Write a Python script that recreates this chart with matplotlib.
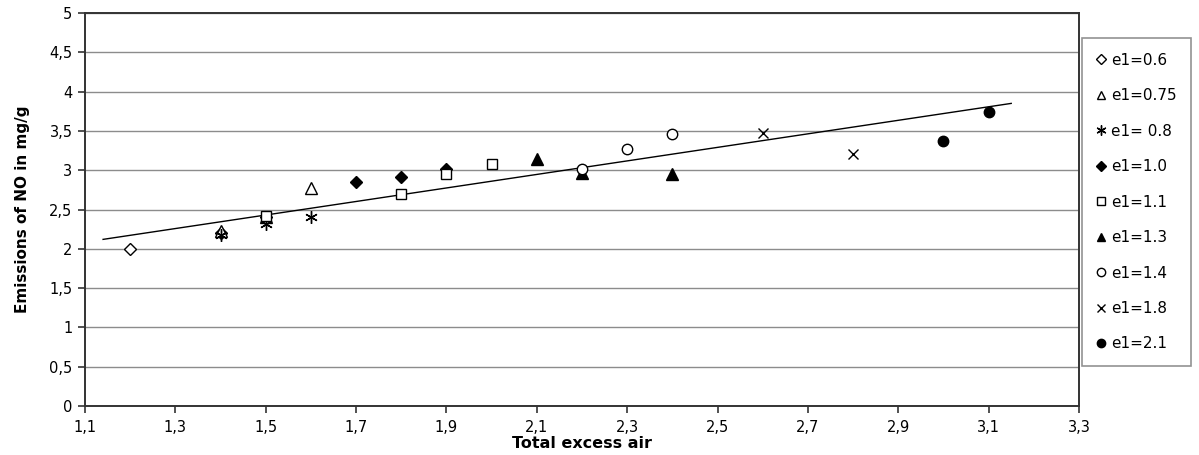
import matplotlib.pyplot as plt
from matplotlib.ticker import FuncFormatter

plt.rcParams['font.family'] = ['DejaVu Sans']

# primary excess air series: (total excess air, NO emissions)
labels = ['e1=0.6', 'e1=0.75', 'e1= 0.8', 'e1=1.0', 'e1=1.1',
          'e1=1.3', 'e1=1.4', 'e1=1.8', 'e1=2.1']

x_06 = [1.2, 1.4, 1.5]
y_06 = [2.00, 2.20, 2.40]
x_075 = [1.4, 1.5, 1.6]
y_075 = [2.23, 2.40, 2.77]
x_08 = [1.4, 1.5, 1.6]
y_08 = [2.18, 2.32, 2.40]
x_10 = [1.7, 1.8, 1.9]
y_10 = [2.85, 2.91, 3.02]
x_11 = [1.5, 1.8, 1.9, 2.0]
y_11 = [2.42, 2.70, 2.95, 3.08]
x_13 = [2.1, 2.2, 2.4]
y_13 = [3.14, 2.96, 2.95]
x_14 = [2.2, 2.3, 2.4]
y_14 = [3.01, 3.27, 3.46]
x_18 = [2.6, 2.8]
y_18 = [3.47, 3.21]
x_21 = [3.0, 3.1]
y_21 = [3.37, 3.74]

# linear trend line end points
trend_x = [1.14, 3.15]
trend_y = [2.12, 3.85]

xs = [x_06, x_075, x_08, x_10, x_11, x_13, x_14, x_18, x_21]
ys = [y_06, y_075, y_08, y_10, y_11, y_13, y_14, y_18, y_21]
styles = [
    dict(marker='D', mfc='white', ms=6),
    dict(marker='^', mfc='white', ms=8),
    dict(marker=(6, 2, 0), mfc='black', ms=9),
    dict(marker='D', mfc='black', ms=6),
    dict(marker='s', mfc='white', ms=7.5),
    dict(marker='^', mfc='black', ms=8),
    dict(marker='o', mfc='white', ms=7.5),
    dict(marker='x', mfc='black', ms=7.5),
    dict(marker='o', mfc='black', ms=7.5),
]

fig = plt.figure(figsize=(11.99, 4.55), dpi=100)
ax = fig.add_axes([0.0709, 0.1077, 0.829, 0.8637])

ax.plot(trend_x, trend_y, color='black', lw=1, zorder=2)
for x, y, lab, st in zip(xs, ys, labels, styles):
    ax.plot(x, y, ls='none', mec='black', mew=1, label=lab, zorder=3, **st)

ax.set_xlim(1.1, 3.3)
ax.set_ylim(0, 5)
ax.set_xticks([1.1 + 0.2 * i for i in range(12)])
ax.set_yticks([0.5 * i for i in range(11)])
comma = FuncFormatter(lambda v, p: f'{v:g}'.replace('.', ','))
ax.xaxis.set_major_formatter(comma)
ax.yaxis.set_major_formatter(comma)
ax.tick_params(labelsize=10.5, length=5, color='#333333', width=1.2)
ax.tick_params(axis='x', pad=5)
ax.tick_params(axis='y', pad=4)

ax.grid(axis='y', color='#8c8c8c', lw=1)
ax.set_axisbelow(True)
for s in ax.spines.values():
    s.set_color('#333333')
    s.set_linewidth(1.4)

ax.set_xlabel('Total excess air', fontsize=11.5, fontweight='bold', labelpad=1)
ax.set_ylabel('Emissions of NO in mg/g', fontsize=11, fontweight='bold', labelpad=14)

leg = ax.legend(loc='upper left', bbox_to_anchor=(1.003, 0.936), borderaxespad=0,
                fontsize=11, frameon=True, fancybox=False, edgecolor='#777777',
                handlelength=0.6, handletextpad=0.35, labelspacing=1.34,
                borderpad=0.95, markerscale=0.8)
leg.get_frame().set_linewidth(1.2)

fig.savefig('out.png', dpi=100)
